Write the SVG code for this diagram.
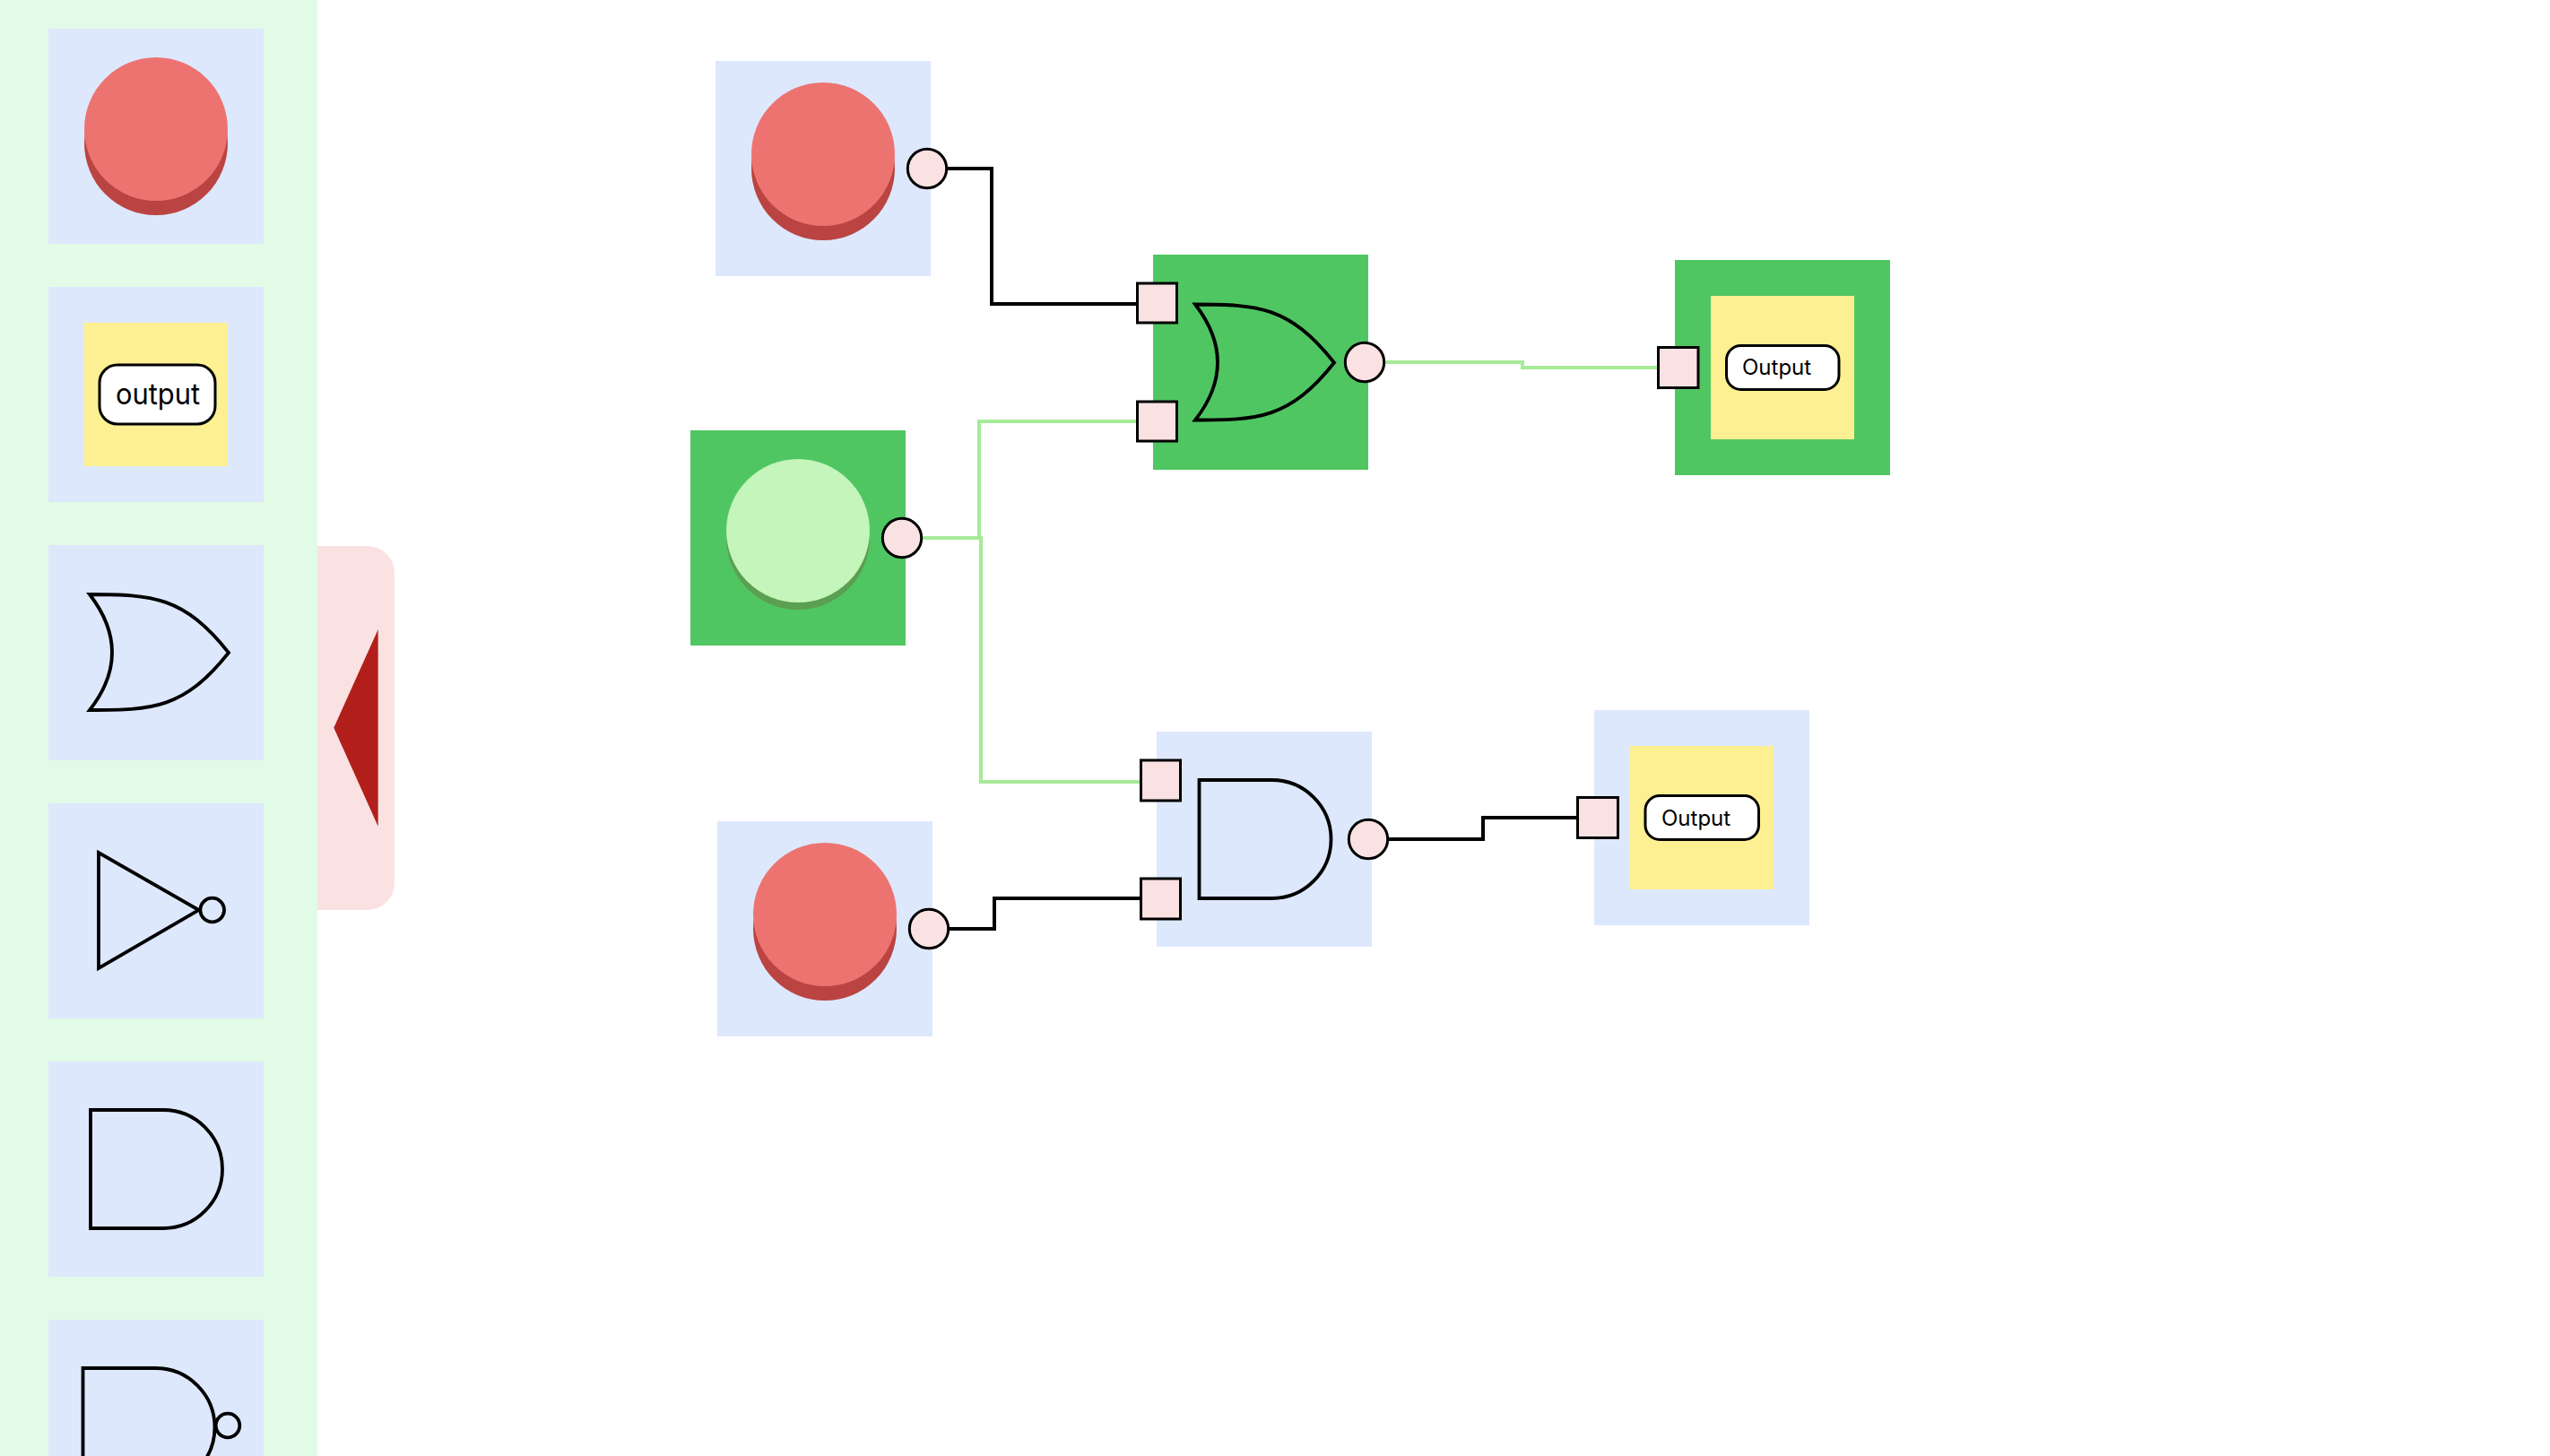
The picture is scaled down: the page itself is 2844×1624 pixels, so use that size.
<svg xmlns="http://www.w3.org/2000/svg" width="2844" height="1624" viewBox="0 0 2844 1624">
<defs>
<style>
.tile{fill:#dde8fd}.act{fill:#50c662}.yel{fill:#fdf092}
.top{fill:#ed7371}.shd{fill:#ba4441}
.gate{fill:none;stroke:#000;stroke-width:3.8;stroke-linejoin:miter}
.port{fill:#fae2e3;stroke:#000;stroke-width:3}
.lbl{fill:#fff;stroke:#000;stroke-width:3}
.w{fill:none;stroke-width:4;stroke-linejoin:miter}
.k{stroke:#000}.g{stroke:#a5eb98}
text{font-family:"Inter","Liberation Sans",sans-serif;fill:#000}
</style>
<path id="or" d="M0 0C70 0 105 2 155 65C105 128 70 129 0 129Q50 65 0 0Z"/>
<path id="and" d="M0 0H81A66 66 0 0 1 81 132H0Z"/>
</defs>

<g id="sidebar">
<rect width="354" height="1624" fill="#e1fbe6"/>
</g>
<g id="collapse-tab">
<path d="M354 609H410A30 30 0 0 1 440 639V985A30 30 0 0 1 410 1015H354Z" fill="#fae2e3"/>
<path d="M421.700 702L372.300 811.700L421.700 921.700Z" fill="#b21f1b"/>
</g>

<g id="palette-button">
<rect class="tile" x="54" y="32" width="240" height="240"/>
<circle class="shd" cx="174" cy="160" r="80"/><circle class="top" cx="174" cy="144" r="80"/>
</g>
<g id="palette-output">
<rect class="tile" x="54" y="320" width="240" height="240"/>
<rect class="yel" x="94" y="360" width="160" height="160"/>
<rect class="lbl" x="111" y="407" width="129" height="66" rx="20"/>
<text x="129" y="451" font-size="32" textLength="94" lengthAdjust="spacingAndGlyphs">output</text>
</g>
<g id="palette-or">
<rect class="tile" x="54" y="608" width="240" height="240"/>
<use href="#or" class="gate" x="100" y="663"/>
</g>
<g id="palette-not">
<rect class="tile" x="54" y="896" width="240" height="240"/>
<path class="gate" d="M110 951V1080L221.700 1015Z"/>
<circle class="gate" cx="236.700" cy="1015" r="13.300"/>
</g>
<g id="palette-and">
<rect class="tile" x="54" y="1184" width="240" height="240"/>
<use href="#and" class="gate" x="101" y="1238"/>
</g>
<g id="palette-nand">
<rect class="tile" x="54" y="1472" width="240" height="240"/>
<use href="#and" class="gate" x="92.500" y="1526"/>
<circle class="gate" cx="254" cy="1590" r="13.300"/>
</g>

<g id="node-button-1">
<rect class="tile" x="798" y="68" width="240" height="240"/>
<circle class="shd" cx="918" cy="188" r="80"/><circle class="top" cx="918" cy="172" r="80"/>
</g>
<g id="node-button-2">
<rect class="act" x="770" y="480" width="240" height="240"/>
<circle cx="890" cy="600" r="80" fill="#5b9f52"/><circle cx="890" cy="592" r="80" fill="#c4f5ba"/>
</g>
<g id="node-button-3">
<rect class="tile" x="800" y="916" width="240" height="240"/>
<circle class="shd" cx="920" cy="1036" r="80"/><circle class="top" cx="920" cy="1020" r="80"/>
</g>
<g id="node-or">
<rect class="act" x="1286" y="284" width="240" height="240"/>
<use href="#or" class="gate" x="1333" y="339.500"/>
</g>
<g id="node-and">
<rect class="tile" x="1290" y="816" width="240" height="240"/>
<use href="#and" class="gate" x="1337.500" y="870"/>
</g>
<g id="node-output-1">
<rect class="act" x="1868" y="290" width="240" height="240"/>
<rect class="yel" x="1908" y="330" width="160" height="160"/>
<rect class="lbl" x="1925.500" y="385.500" width="125.500" height="49" rx="16"/>
<text x="1943" y="418" font-size="24">Output</text>
</g>
<g id="node-output-2">
<rect class="tile" x="1778" y="792" width="240" height="240"/>
<rect class="yel" x="1818" y="832" width="160" height="160"/>
<rect class="lbl" x="1835" y="887.500" width="126.500" height="49" rx="16"/>
<text x="1853" y="921" font-size="24">Output</text>
</g>

<g id="connectors">
<path class="w k" d="M1057 188H1106V339H1268"/>
<path class="w g" d="M1029 600H1092V470H1268"/>
<path class="w g" d="M1029 600H1094V872H1272"/>
<path class="w g" d="M1545 404H1698V410H1849"/>
<path class="w k" d="M1059 1036H1109V1002H1272"/>
<path class="w k" d="M1549 936H1654V912H1759"/>
</g>

<g id="ports">
<circle class="port" cx="1034" cy="188" r="21.700"/>
<circle class="port" cx="1006" cy="600" r="21.700"/>
<circle class="port" cx="1036" cy="1036" r="21.700"/>
<circle class="port" cx="1522" cy="404" r="21.700"/>
<circle class="port" cx="1526" cy="936" r="21.700"/>
<rect class="port" x="1268.500" y="316" width="44" height="44"/>
<rect class="port" x="1268.500" y="448" width="44" height="44"/>
<rect class="port" x="1272.500" y="848" width="44" height="45"/>
<rect class="port" x="1272.500" y="980" width="44" height="45"/>
<rect class="port" x="1849.500" y="387.500" width="44.500" height="45"/>
<rect class="port" x="1759.500" y="889.500" width="45" height="45"/>
</g>
</svg>
